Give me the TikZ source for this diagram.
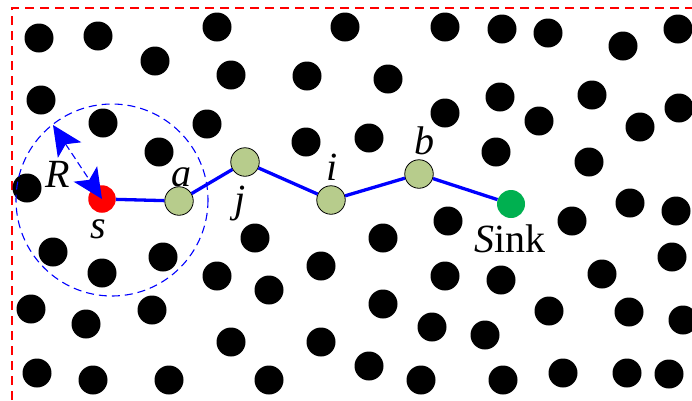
\documentclass[tikz,border=0pt]{standalone}
\usepackage{fontspec}
\setmainfont{Liberation Serif}
\usetikzlibrary{arrows.meta}
\definecolor{nodegreen}{RGB}{183,204,140}
\definecolor{sinkgreen}{RGB}{0,176,80}
\tikzset{
  blackdot/.style={circle,fill=black,inner sep=0pt,minimum size=29pt},
  relaynode/.style={circle,fill=nodegreen,draw=black,line width=0.8pt,inner sep=0pt,minimum size=28.5pt},
  srcnode/.style={circle,fill=red,inner sep=0pt,minimum size=27.5pt},
  sinknode/.style={circle,fill=sinkgreen,inner sep=0pt,minimum size=28pt},
  routeline/.style={draw=blue,line width=3.3pt},
  lbltext/.style={anchor=base,inner sep=0pt,font=\fontsize{40}{42}\selectfont},
  frameline/.style={draw=red,line width=1.2pt,dash pattern=on 9pt off 6pt},
  commrange/.style={draw=blue,line width=1.1pt,dash pattern=on 8pt off 5pt},
  radiusarrow/.style={draw=blue,line width=1.1pt,dash pattern=on 7pt off 4pt},
}
\begin{document}
\begin{tikzpicture}[x=1pt,y=-1pt]
\useasboundingbox (0,0) rectangle (692,400);
\fill[white] (0,0) rectangle (692,400);
\draw[frameline] (12,400) -- (12,8) -- (692,8);
\foreach \p [count=\k] in {(39,38),(98,36),(217,27),(155,61),(231,75),(41,100),(103,123),(207,124),(159,152),(27,188),
  (345,27),(445,27),(307,76),(388,79),(445,113),(306,142),(369,138),(502,29),(548,33),(623,46),
  (678,29),(500,97),(592,95),(539,121),(640,127),(679,108),(496,152),(589,162),(630,203),(676,211),
  (53,252),(102,273),(163,257),(217,276),(31,309),(86,324),(152,310),(231,342),(37,373),(93,380),
  (169,380),(255,238),(383,238),(448,221),(321,266),(269,290),(445,276),(383,304),(432,327),(321,342),
  (369,366),(269,380),(421,380),(572,221),(672,257),(501,280),(602,274),(549,311),(629,312),(683,320),
  (485,335),(503,380),(563,373),(627,373),(669,374)}
  \node[blackdot] (d\k) at \p {};
\node[srcnode] (s) at (102,199) {};
\node[relaynode] (a) at (179,201) {};
\node[relaynode] (j) at (245,162) {};
\node[relaynode] (i) at (331,200) {};
\node[relaynode] (b) at (419,174) {};
\node[sinknode] (sink) at (511,204) {};
\draw[commrange] (112,200) circle[radius=96];
\coordinate (rtip) at (53,125);
\draw[radiusarrow,
  {Stealth[length=30pt,width=28pt,inset=7pt,fill=blue,color=blue]}-{Stealth[length=30pt,width=28pt,inset=7pt,fill=blue,color=blue]}]
  (rtip) -- (s.center);
\draw[routeline] (s) -- (a) -- (j) -- (i) -- (b) -- (sink);
\node[lbltext] (la) at (181,186) {\textit{a}};
\node[lbltext] (lj) at (240,212) {\textit{j}};
\node[lbltext] (li) at (332,180) {\textit{i}};
\node[lbltext] (lb) at (424,154) {\textit{b}};
\node[lbltext] (ls) at (98,238) {\textit{s}};
\node[lbltext] (lR) at (58,187) {\textit{R}};
\node[lbltext] (lsink) at (510,252) {\textit{S}ink};
\end{tikzpicture}
\end{document}
